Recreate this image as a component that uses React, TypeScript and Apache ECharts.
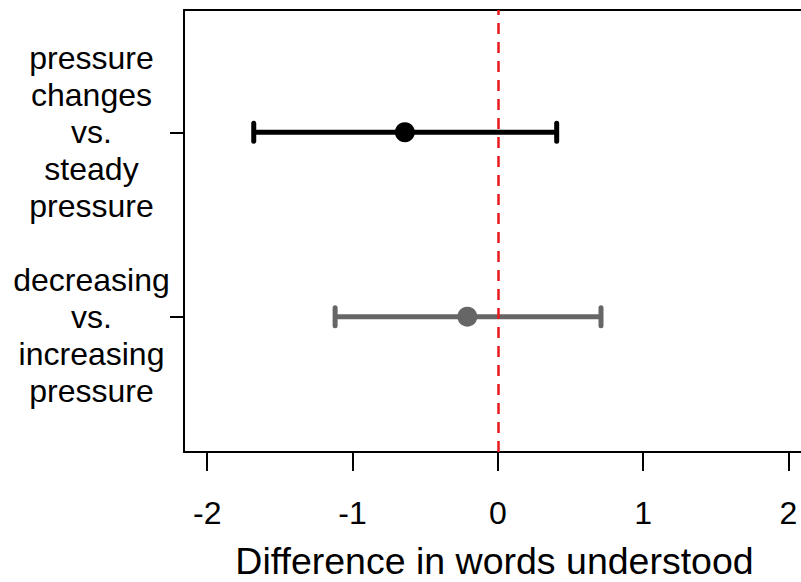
import React, { useEffect, useRef } from "react";
import * as echarts from "echarts";

const comparisons = [
  "pressure\nchanges\nvs.\nsteady\npressure",
  "decreasing\nvs.\nincreasing\npressure",
];
const rowPositions = [2, 1];
const estimates = [-0.64, -0.21];
const lowerBounds = [-1.68, -1.12];
const upperBounds = [0.405, 0.71];
const xTicks = [-2, -1, 0, 1, 2];
const xTitle = "Difference in words understood";

const rowColors = ["#000000", "#666666"];
const FONT = "'Liberation Sans', Arial, sans-serif";

const X_MIN = -2.16;
const X_MAX = 2.114;
const GRID_W = 621;
const Y_MIN = 0.266;
const Y_MAX = 2.663;
const GRID_H = 442;
const LINE_H = 37;

export default function App() {
  const ref = useRef<HTMLDivElement>(null);
  useEffect(() => {
    if (!ref.current) return;
    const chart = echarts.init(ref.current, undefined, { renderer: "svg" });
    const barData = rowPositions.map((p, i) => [lowerBounds[i], upperBounds[i], p, i]);
    const pointData = rowPositions.map((p, i) => ({
      value: [estimates[i], p],
      itemStyle: { color: rowColors[i], opacity: 1 },
    }));
    // keep the "vs." line level with the tick: labels with an even number of
    // lines are centred half a line lower
    const pxPerUnit = GRID_H / (Y_MAX - Y_MIN);
    const labelPositions = rowPositions.map((p, i) => {
      const n = comparisons[i].split("\n").length;
      return n % 2 === 0 ? p - (LINE_H / 2) / pxPerUnit : p;
    });
    const axisLineStyle = { color: "#000", width: 2 };
    chart.setOption({
      animation: false,
      backgroundColor: "#ffffff",
      textStyle: { fontFamily: FONT },
      grid: {
        left: 184,
        top: 10,
        width: GRID_W,
        height: GRID_H,
        show: false,
        containLabel: false,
        outerBoundsMode: "none",
      },
      xAxis: [
        {
          type: "value",
          min: X_MIN,
          max: X_MAX,
          splitLine: { show: false },
          axisLine: { show: true, onZero: false, lineStyle: axisLineStyle },
          axisTick: {
            show: true,
            length: 19,
            customValues: xTicks,
            lineStyle: { color: "#000", width: 2 },
          },
          axisLabel: {
            customValues: xTicks,
            fontSize: 32,
            color: "#000",
            fontFamily: FONT,
            margin: 61,
            verticalAlign: "middle",
            formatter: (v: number) => String(v),
          },
          name: xTitle,
          nameLocation: "middle",
          nameGap: 109,
          nameTextStyle: {
            fontSize: 37.5,
            color: "#000",
            fontFamily: FONT,
            verticalAlign: "middle",
          },
        },
        {
          type: "value",
          position: "top",
          min: X_MIN,
          max: X_MAX,
          splitLine: { show: false },
          axisLine: { show: true, onZero: false, lineStyle: axisLineStyle },
          axisTick: { show: false },
          axisLabel: { show: false },
        },
      ],
      yAxis: {
        type: "value",
        min: Y_MIN,
        max: Y_MAX,
        splitLine: { show: false },
        axisLine: { show: true, onZero: false, lineStyle: axisLineStyle },
        axisTick: {
          show: true,
          length: 14,
          customValues: rowPositions,
          lineStyle: { color: "#000", width: 2 },
        },
        axisLabel: {
          customValues: labelPositions,
          hideOverlap: false,
          fontSize: 32,
          lineHeight: LINE_H,
          color: "#000",
          fontFamily: FONT,
          align: "center",
          verticalAlign: "middle",
          margin: 92.5,
          formatter: (v: number) => {
            const idx = rowPositions.indexOf(Math.round(v));
            return idx >= 0 ? comparisons[idx] : "";
          },
        },
      },
      series: [
        {
          type: "custom",
          data: barData,
          z: 2,
          renderItem: (params: any, api: any) => {
            const lo = api.coord([api.value(0), api.value(2)]);
            const hi = api.coord([api.value(1), api.value(2)]);
            const color = rowColors[api.value(3)];
            const cap = 9;
            const style = { stroke: color, lineWidth: 5, lineCap: "round" };
            return {
              type: "group",
              children: [
                { type: "line", shape: { x1: lo[0], y1: lo[1], x2: hi[0], y2: hi[1] }, style: { ...style, lineCap: "butt" } },
                { type: "line", shape: { x1: lo[0], y1: lo[1] - cap, x2: lo[0], y2: lo[1] + cap }, style },
                { type: "line", shape: { x1: hi[0], y1: hi[1] - cap, x2: hi[0], y2: hi[1] + cap }, style },
              ],
            };
          },
        },
        {
          type: "scatter",
          data: pointData,
          symbol: "circle",
          symbolSize: 20,
          z: 3,
          itemStyle: { opacity: 1 },
          markLine: {
            silent: true,
            symbol: "none",
            label: { show: false },
            lineStyle: { color: "#e8191f", width: 2.5, type: [11, 8], opacity: 1 },
            data: [{ xAxis: 0 }],
            z: 4,
          },
        },
      ],
    });
    return () => chart.dispose();
  }, []);
  return (
    <div
      ref={ref}
      style={{ position: "absolute", left: 0, top: 0, width: 801, height: 582 }}
    />
  );
}
